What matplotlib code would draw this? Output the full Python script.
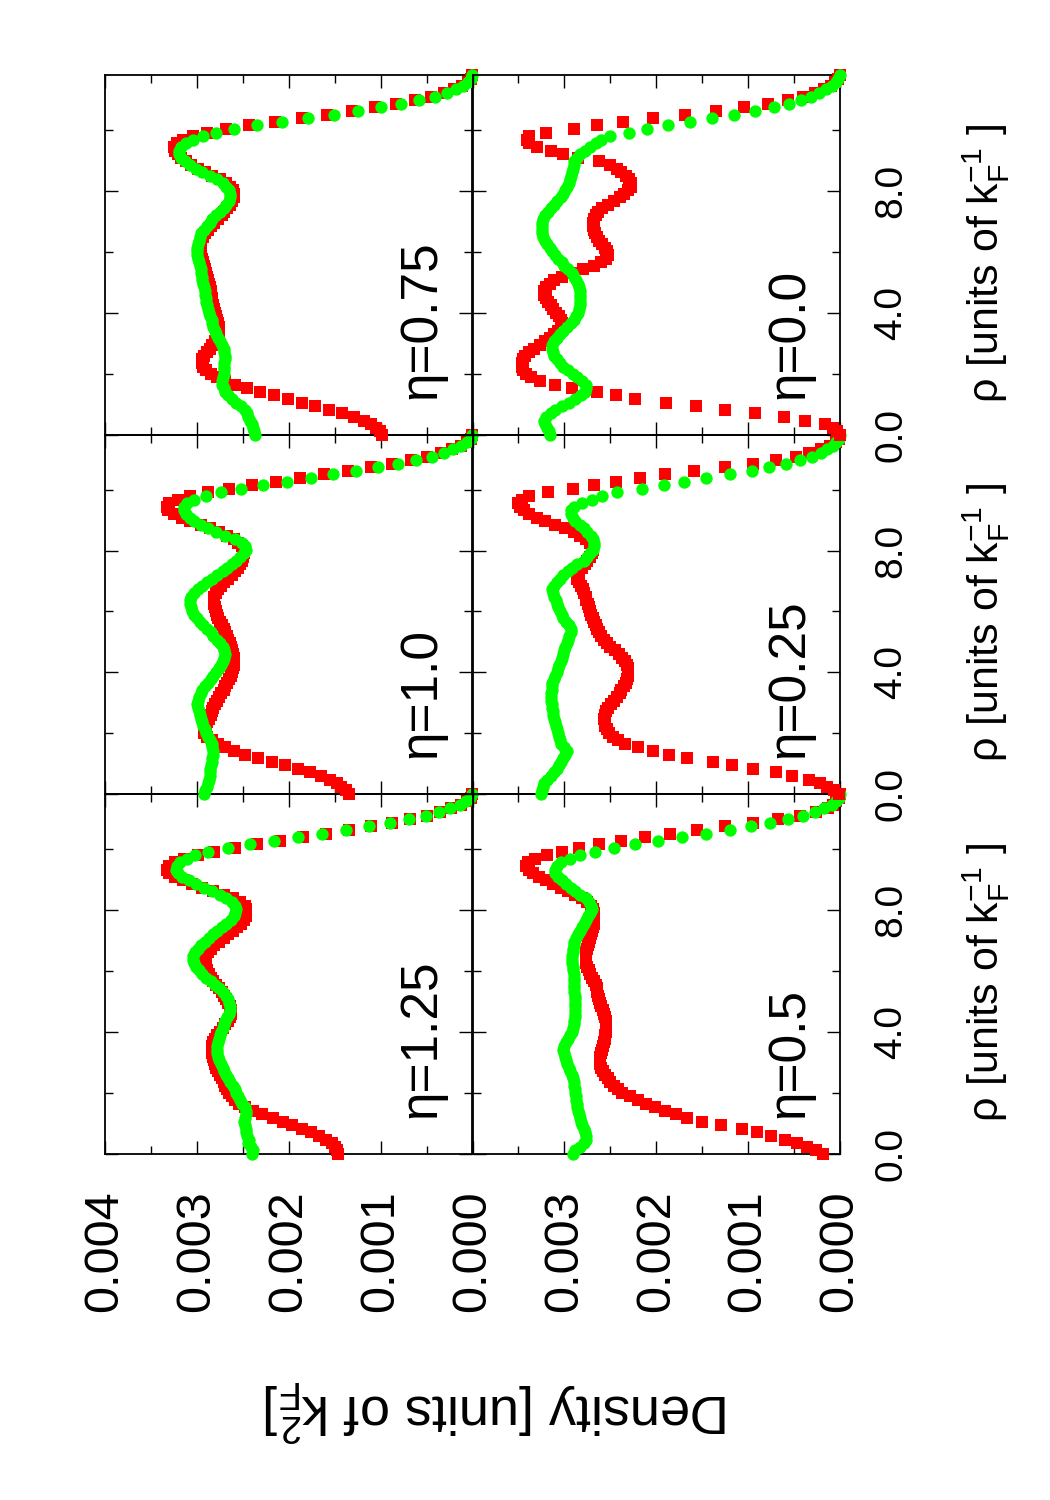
import numpy as np
import matplotlib
matplotlib.use("Agg")
import matplotlib.pyplot as plt
from matplotlib.ticker import MultipleLocator

plt.rcParams.update({
    "font.family": ["Liberation Sans", "DejaVu Sans"],
    "axes.linewidth": 1.3,
    "xtick.direction": "in", "ytick.direction": "in",
    "xtick.major.size": 9.4, "xtick.minor.size": 5.8,
    "ytick.major.size": 9.4, "ytick.minor.size": 5.8,
    "xtick.major.width": 1.0, "xtick.minor.width": 1.0,
    "ytick.major.width": 1.0, "ytick.minor.width": 1.0,
})

W, H = 1050, 1500

# radial sampling grid (units of 1/k_F); densities below are in units of 1e-4 k_F^2
RHO = np.linspace(0.0, 11.8, 101)
DENS_UNIT = 1e-4

RED_125 = [
    14.6, 14.8, 15.0, 15.3, 15.9, 16.7, 17.6, 18.6, 19.6, 20.6,
    21.7, 22.9, 23.9, 24.8, 25.4, 25.9, 26.2, 26.5, 26.7, 26.9,
    27.1, 27.3, 27.5, 27.7, 27.9, 28.0, 28.1, 28.2, 28.3, 28.3,
    28.3, 28.2, 28.0, 27.8, 27.5, 27.2, 26.9, 26.6, 26.4, 26.3,
    26.3, 26.4, 26.6, 26.8, 27.0, 27.3, 27.6, 27.9, 28.2, 28.5,
    28.7, 28.9, 29.0, 29.1, 29.1, 29.0, 28.8, 28.5, 28.1, 27.6,
    27.1, 26.6, 26.1, 25.6, 25.2, 24.9, 24.7, 24.6, 24.6, 24.8,
    25.3, 26.1, 27.1, 28.2, 29.4, 30.5, 31.5, 32.4, 33.0, 33.2,
    33.0, 32.4, 31.4, 29.9, 28.1, 25.9, 23.5, 21.0, 18.4, 15.9,
    13.4, 11.0, 8.8, 6.8, 5.0, 3.5, 2.3, 1.3, 0.6, 0.2,
    0.0]
GREEN_125 = [
    24.0, 23.9, 24.1, 24.4, 24.3, 24.5, 24.7, 24.6, 24.8, 24.9,
    24.8, 24.7, 24.6, 24.8, 25.1, 25.3, 25.5, 25.7, 25.8, 26.1,
    26.4, 26.6, 26.8, 27.0, 27.2, 27.4, 27.6, 27.7, 27.8, 27.8,
    27.8, 27.7, 27.6, 27.5, 27.4, 27.2, 27.1, 26.9, 26.7, 26.5,
    26.4, 26.4, 26.5, 26.6, 26.8, 27.2, 27.6, 28.0, 28.5, 29.0,
    29.4, 29.8, 30.1, 30.3, 30.4, 30.4, 30.2, 29.9, 29.5, 29.1,
    28.7, 28.2, 27.8, 27.3, 26.8, 26.3, 26.0, 25.8, 25.7, 25.8,
    26.2, 26.8, 27.5, 28.3, 29.2, 30.1, 30.9, 31.6, 32.1, 32.3,
    32.2, 31.8, 31.1, 30.2, 28.8, 26.6, 24.2, 21.6, 19.0, 16.4,
    13.8, 11.3, 9.0, 6.9, 5.1, 3.6, 2.4, 1.4, 0.7, 0.25,
    0.0]

RED_100 = [
    13.4, 13.8, 14.3, 14.8, 15.5, 16.5, 17.7, 19.0, 20.4, 21.8,
    23.3, 24.8, 26.0, 26.9, 27.7, 28.4, 28.9, 29.2, 29.2, 29.0,
    28.9, 28.7, 28.5, 28.4, 28.2, 28.0, 27.8, 27.6, 27.4, 27.1,
    26.9, 26.7, 26.5, 26.3, 26.2, 26.1, 26.0, 26.0, 26.0, 26.1,
    26.2, 26.3, 26.4, 26.6, 26.7, 26.9, 27.1, 27.3, 27.5, 27.7,
    27.8, 27.9, 28.0, 28.1, 28.1, 28.1, 27.9, 27.7, 27.4, 27.0,
    26.6, 26.2, 25.8, 25.5, 25.3, 25.1, 25.0, 24.9, 24.9, 25.1,
    25.5, 26.0, 26.7, 27.6, 28.6, 29.6, 30.7, 31.6, 32.5, 33.1,
    33.3, 33.0, 32.1, 30.7, 28.8, 26.5, 24.0, 21.4, 18.8, 16.2,
    13.6, 11.1, 8.8, 6.7, 4.9, 3.4, 2.2, 1.3, 0.6, 0.2,
    0.0]
GREEN_100 = [
    29.2, 29.1, 28.9, 28.8, 28.7, 28.6, 28.6, 28.6, 28.5, 28.4,
    28.3, 28.2, 28.2, 28.3, 28.4, 28.6, 28.8, 29.0, 29.1, 29.3,
    29.4, 29.6, 29.7, 29.8, 29.9, 30.0, 29.9, 29.8, 29.6, 29.4,
    29.1, 28.8, 28.5, 28.2, 27.9, 27.6, 27.4, 27.2, 27.0, 26.9,
    27.0, 27.2, 27.5, 27.8, 28.2, 28.5, 28.9, 29.3, 29.7, 30.0,
    30.3, 30.5, 30.6, 30.7, 30.7, 30.6, 30.3, 29.9, 29.4, 28.9,
    28.4, 27.8, 27.2, 26.7, 26.2, 25.7, 25.3, 24.9, 24.7, 24.8,
    25.1, 25.9, 26.9, 27.9, 28.8, 29.6, 30.3, 30.8, 31.2, 31.4,
    31.4, 31.1, 30.3, 29.0, 27.4, 25.2, 22.8, 20.2, 17.6, 15.2,
    12.7, 10.3, 8.1, 6.1, 4.4, 3.1, 2.1, 1.2, 0.6, 0.2,
    0.0]

RED_075 = [
    9.9, 10.1, 10.5, 11.0, 11.8, 12.9, 14.2, 15.6, 17.1, 18.6,
    20.1, 21.6, 23.1, 24.5, 25.8, 26.9, 27.8, 28.5, 29.0, 29.3,
    29.4, 29.4, 29.2, 28.9, 28.6, 28.3, 28.0, 27.8, 27.7, 27.6,
    27.6, 27.7, 27.8, 27.9, 28.0, 28.1, 28.2, 28.3, 28.4, 28.5,
    28.5, 28.6, 28.7, 28.8, 28.9, 29.0, 29.1, 29.2, 29.3, 29.4,
    29.5, 29.6, 29.6, 29.6, 29.5, 29.3, 29.1, 28.8, 28.5, 28.1,
    27.7, 27.3, 27.0, 26.7, 26.4, 26.2, 26.0, 26.0, 26.1, 26.4,
    26.8, 27.5, 28.3, 29.1, 29.9, 30.6, 31.2, 31.7, 32.1, 32.4,
    32.5, 32.2, 31.5, 30.4, 28.9, 26.8, 24.3, 21.5, 18.6, 15.8,
    13.1, 10.6, 8.3, 6.3, 4.5, 3.1, 2.0, 1.1, 0.5, 0.2,
    0.0]
GREEN_075 = [
    23.7, 23.8, 23.9, 24.0, 24.2, 24.4, 24.5, 24.8, 25.2, 25.7,
    26.2, 26.6, 26.9, 27.1, 27.3, 27.3, 27.2, 27.1, 27.1, 27.0,
    27.0, 26.9, 26.9, 27.0, 27.1, 27.3, 27.5, 27.7, 27.9, 28.0,
    28.2, 28.3, 28.4, 28.6, 28.7, 28.8, 28.9, 29.0, 29.0, 29.1,
    29.1, 29.2, 29.3, 29.4, 29.4, 29.5, 29.6, 29.7, 29.8, 29.9,
    30.0, 30.0, 30.0, 29.9, 29.8, 29.7, 29.5, 29.2, 28.9, 28.6,
    28.3, 27.9, 27.5, 27.1, 26.8, 26.5, 26.4, 26.4, 26.5, 26.8,
    27.2, 27.8, 28.6, 29.4, 30.1, 30.8, 31.3, 31.7, 32.0, 32.0,
    31.7, 31.2, 30.4, 29.3, 27.9, 26.0, 23.5, 20.7, 17.9, 15.1,
    12.5, 10.0, 7.8, 5.8, 4.1, 2.8, 1.8, 1.0, 0.5, 0.2,
    0.0]

RED_050 = [
    1.8, 2.6, 3.6, 4.7, 6.0, 7.5, 9.0, 10.7, 12.9, 15.0,
    16.6, 17.9, 19.1, 20.1, 21.1, 22.0, 22.9, 23.7, 24.2, 24.6,
    25.0, 25.3, 25.6, 25.8, 26.0, 26.1, 26.1, 26.1, 26.0, 25.9,
    25.8, 25.7, 25.6, 25.6, 25.5, 25.5, 25.5, 25.5, 25.6, 25.7,
    25.8, 26.0, 26.1, 26.2, 26.3, 26.4, 26.5, 26.6, 26.8, 27.0,
    27.2, 27.3, 27.5, 27.6, 27.6, 27.6, 27.6, 27.5, 27.4, 27.3,
    27.2, 27.1, 27.0, 26.9, 26.8, 26.8, 26.8, 26.8, 26.9, 27.1,
    27.5, 28.1, 28.8, 29.6, 30.4, 31.2, 32.0, 32.8, 33.4, 33.9,
    34.2, 34.0, 33.2, 31.9, 30.3, 28.4, 26.2, 23.8, 21.2, 18.5,
    15.6, 12.5, 9.5, 6.7, 4.3, 2.6, 1.3, 0.8, 0.4, 0.1,
    0.0]
GREEN_050 = [
    29.1, 28.8, 28.3, 27.9, 27.7, 27.7, 27.8, 27.9, 28.1, 28.2,
    28.3, 28.4, 28.5, 28.6, 28.6, 28.7, 28.7, 28.8, 28.8, 28.9,
    29.0, 29.1, 29.2, 29.4, 29.5, 29.7, 29.8, 29.9, 30.0, 30.1,
    30.0, 29.8, 29.6, 29.4, 29.2, 29.1, 29.0, 28.9, 28.8, 28.8,
    28.8, 28.8, 28.8, 28.8, 28.8, 28.9, 28.9, 28.9, 29.0, 29.0,
    29.0, 29.1, 29.1, 29.2, 29.2, 29.2, 29.1, 29.1, 29.0, 28.9,
    28.7, 28.5, 28.3, 28.1, 27.9, 27.6, 27.4, 27.2, 27.0, 27.1,
    27.3, 27.7, 28.3, 28.8, 29.3, 29.8, 30.3, 30.7, 31.0, 31.0,
    30.8, 30.4, 29.4, 28.3, 26.7, 24.6, 22.3, 19.8, 17.2, 14.6,
    12.0, 9.7, 7.6, 5.7, 4.0, 2.7, 1.7, 0.9, 0.4, 0.1,
    0.0]

RED_025 = [
    0.1, 0.6, 1.4, 2.2, 3.4, 5.2, 7.0, 9.5, 11.8, 13.8,
    16.6, 18.6, 20.3, 22.0, 23.4, 24.2, 24.7, 25.1, 25.4, 25.6,
    25.6, 25.7, 25.6, 25.5, 25.2, 24.9, 24.6, 24.3, 24.0, 23.8,
    23.5, 23.3, 23.2, 23.1, 23.1, 23.1, 23.2, 23.4, 23.7, 24.1,
    24.5, 25.0, 25.4, 25.7, 26.0, 26.2, 26.4, 26.6, 26.8, 26.9,
    27.1, 27.2, 27.3, 27.4, 27.6, 27.7, 27.9, 28.0, 28.2, 28.4,
    28.6, 28.6, 28.4, 28.1, 27.8, 27.5, 27.2, 27.0, 26.9, 27.0,
    27.2, 27.6, 28.3, 29.0, 29.9, 31.0, 32.1, 33.0, 33.8, 34.4,
    34.8, 35.0, 34.6, 33.8, 31.8, 29.1, 26.8, 24.4, 21.8, 19.0,
    15.9, 12.5, 9.5, 7.0, 4.8, 3.4, 2.1, 1.1, 0.4, 0.1,
    0.0]
GREEN_025 = [
    32.5, 32.4, 32.3, 32.2, 31.9, 31.5, 31.1, 30.8, 30.6, 30.4,
    30.2, 29.9, 29.7, 30.0, 30.4, 30.5, 30.6, 30.7, 30.8, 30.9,
    31.0, 31.1, 31.2, 31.2, 31.3, 31.4, 31.5, 31.5, 31.5, 31.4,
    31.3, 31.3, 31.1, 31.0, 30.8, 30.7, 30.6, 30.4, 30.3, 30.2,
    30.0, 29.9, 29.7, 29.6, 29.5, 29.3, 29.3, 29.5, 29.8, 30.1,
    30.3, 30.5, 30.7, 30.8, 30.9, 31.1, 31.2, 31.3, 31.1, 30.8,
    30.5, 30.1, 29.6, 29.2, 28.6, 27.9, 27.5, 27.2, 26.9, 26.8,
    26.8, 26.9, 27.1, 27.5, 27.9, 28.3, 28.8, 29.1, 29.3, 29.3,
    29.0, 28.1, 27.0, 25.9, 24.3, 21.5, 19.2, 17.0, 14.6, 12.0,
    9.6, 7.7, 5.9, 4.3, 3.1, 2.1, 1.4, 0.8, 0.4, 0.1,
    0.0]

RED_000 = [
    0.0, 0.3, 0.8, 1.6, 3.8, 6.1, 9.2, 12.5, 15.7, 18.9,
    22.3, 24.4, 26.5, 29.2, 31.0, 32.6, 33.6, 34.2, 34.5, 34.6,
    34.6, 34.5, 34.3, 33.9, 33.3, 32.7, 32.1, 31.6, 31.1, 30.7,
    30.4, 30.3, 30.4, 30.6, 30.9, 31.2, 31.5, 31.8, 32.0, 32.2,
    32.2, 32.0, 31.6, 31.1, 30.3, 29.3, 28.0, 26.8, 26.0, 25.5,
    25.3, 25.4, 25.6, 25.9, 26.2, 26.5, 26.7, 26.8, 26.9, 26.9,
    26.8, 26.6, 26.3, 25.9, 25.3, 24.6, 24.0, 23.5, 23.1, 22.8,
    22.8, 23.0, 23.3, 23.8, 24.3, 25.0, 26.2, 28.5, 30.2, 31.5,
    33.0, 33.8, 34.1, 33.9, 32.0, 29.0, 26.5, 23.6, 20.3, 16.9,
    13.5, 10.4, 7.8, 5.7, 4.0, 2.7, 1.7, 1.0, 0.5, 0.2,
    0.0]
GREEN_000 = [
    31.6, 31.7, 31.9, 32.1, 32.2, 32.0, 31.5, 31.0, 30.3, 29.5,
    28.8, 28.2, 27.8, 27.6, 27.7, 28.1, 28.6, 29.1, 29.6, 30.1,
    30.5, 30.8, 31.1, 31.2, 31.3, 31.3, 31.1, 30.8, 30.5, 30.1,
    29.7, 29.3, 29.0, 28.7, 28.5, 28.4, 28.3, 28.3, 28.3, 28.3,
    28.3, 28.4, 28.5, 28.7, 28.9, 29.2, 29.6, 30.0, 30.3, 30.7,
    31.0, 31.3, 31.6, 31.9, 32.1, 32.3, 32.4, 32.4, 32.4, 32.4,
    32.3, 32.1, 31.8, 31.5, 31.1, 30.8, 30.4, 30.1, 29.9, 29.7,
    29.5, 29.4, 29.3, 29.2, 29.1, 29.0, 28.9, 28.6, 28.3, 27.8,
    27.2, 26.6, 26.0, 25.0, 23.0, 21.0, 18.7, 16.3, 13.9, 11.5,
    9.3, 7.2, 5.5, 4.2, 3.2, 2.3, 1.5, 0.9, 0.4, 0.2,
    0.0]

ETA_LABELS = ["η=1.25", "η=1.0", "η=0.75", "η=0.5", "η=0.25", "η=0.0"]
RED_SERIES = [RED_125, RED_100, RED_075, RED_050, RED_025, RED_000]
GREEN_SERIES = [GREEN_125, GREEN_100, GREEN_075, GREEN_050, GREEN_025, GREEN_000]

DENS_TICKS = [0.0, 0.001, 0.002, 0.003, 0.004]
DENS_TICKLABELS = ["0.000", "0.001", "0.002", "0.003", "0.004"]
RHO_TICKS = [0.0, 4.0, 8.0]
RHO_TICKLABELS = ["0.0", "4.0", "8.0"]

# panel boxes in pixels (column, row) -> page is the rotated landscape figure
COL_X = [(105, 472.5), (472.5, 840)]
ROW_Y = [(75, 435), (435, 794), (794, 1154)]
# eta panels: first column bottom->top, then second column bottom->top
PANEL_POS = [(0, 2), (0, 1), (0, 0), (1, 2), (1, 1), (1, 0)]


def add_panel(fig, col, row):
    x0, x1 = COL_X[col]
    y0, y1 = ROW_Y[row]
    ax = fig.add_axes([x0 / W, 1 - y1 / H, (x1 - x0) / W, (y1 - y0) / H])
    ax.patch.set_visible(False)
    return ax


def main():
    fig = plt.figure(figsize=(W / 100, H / 100), dpi=100)
    fig.patch.set_facecolor("white")

    for label, red, green, (col, row) in zip(ETA_LABELS, RED_SERIES,
                                             GREEN_SERIES, PANEL_POS):
        ax = add_panel(fig, col, row)
        ax.plot(np.array(red) * DENS_UNIT, RHO, "s", color="#ff0000",
                ms=8.3, mew=0, clip_on=False, zorder=3)
        ax.plot(np.array(green) * DENS_UNIT, RHO, "o", color="#00ff00",
                ms=8.9, mew=0, clip_on=False, zorder=4)
        ax.set_xlim(0.004, 0.0)
        ax.set_ylim(0.0, 11.8)

        ax.xaxis.set_minor_locator(MultipleLocator(0.0005))
        ax.yaxis.set_minor_locator(MultipleLocator(2))
        ax.tick_params(which="both", top=True, bottom=True,
                       left=True, right=True)

        if row == 2:
            labels = list(DENS_TICKLABELS)
            if col == 1:
                labels[-1] = ""
            ax.set_xticks(DENS_TICKS, labels)
            ax.tick_params(axis="x", labelsize=35, pad=26, labelrotation=90)
        else:
            ax.set_xticks(DENS_TICKS)
            ax.tick_params(axis="x", labelbottom=False)

        if col == 1:
            ax.set_yticks(RHO_TICKS, RHO_TICKLABELS)
            ax.tick_params(axis="y", labelleft=False, labelright=True,
                           labelsize=28, pad=24, labelrotation=90)
            plt.setp(ax.get_yticklabels(), va="center")
        else:
            ax.set_yticks(RHO_TICKS)
            ax.tick_params(axis="y", labelleft=False)

        ax.text(0.0004, 1.17, label, rotation=90, rotation_mode="anchor",
                ha="left", va="baseline", fontsize=37, zorder=5)

    # axis titles (page is rotated, so they are rotated too)
    fig.text(497 / W, 1 - 1411 / H, r"Density [units of $\mathregular{k_F^2}$]",
             rotation=180, ha="center", va="center", fontsize=39)
    for y0, y1 in ROW_Y:
        yc = (y0 + y1) / 2 + 8
        fig.text(998 / W, 1 - yc / H, r"ρ [units of $\mathregular{k_F^{-1}}$ ]",
                 rotation=90, rotation_mode="anchor", ha="center",
                 va="baseline", fontsize=31)

    fig.savefig("out.png", dpi=100)
    plt.close(fig)


if __name__ == "__main__":
    main()
